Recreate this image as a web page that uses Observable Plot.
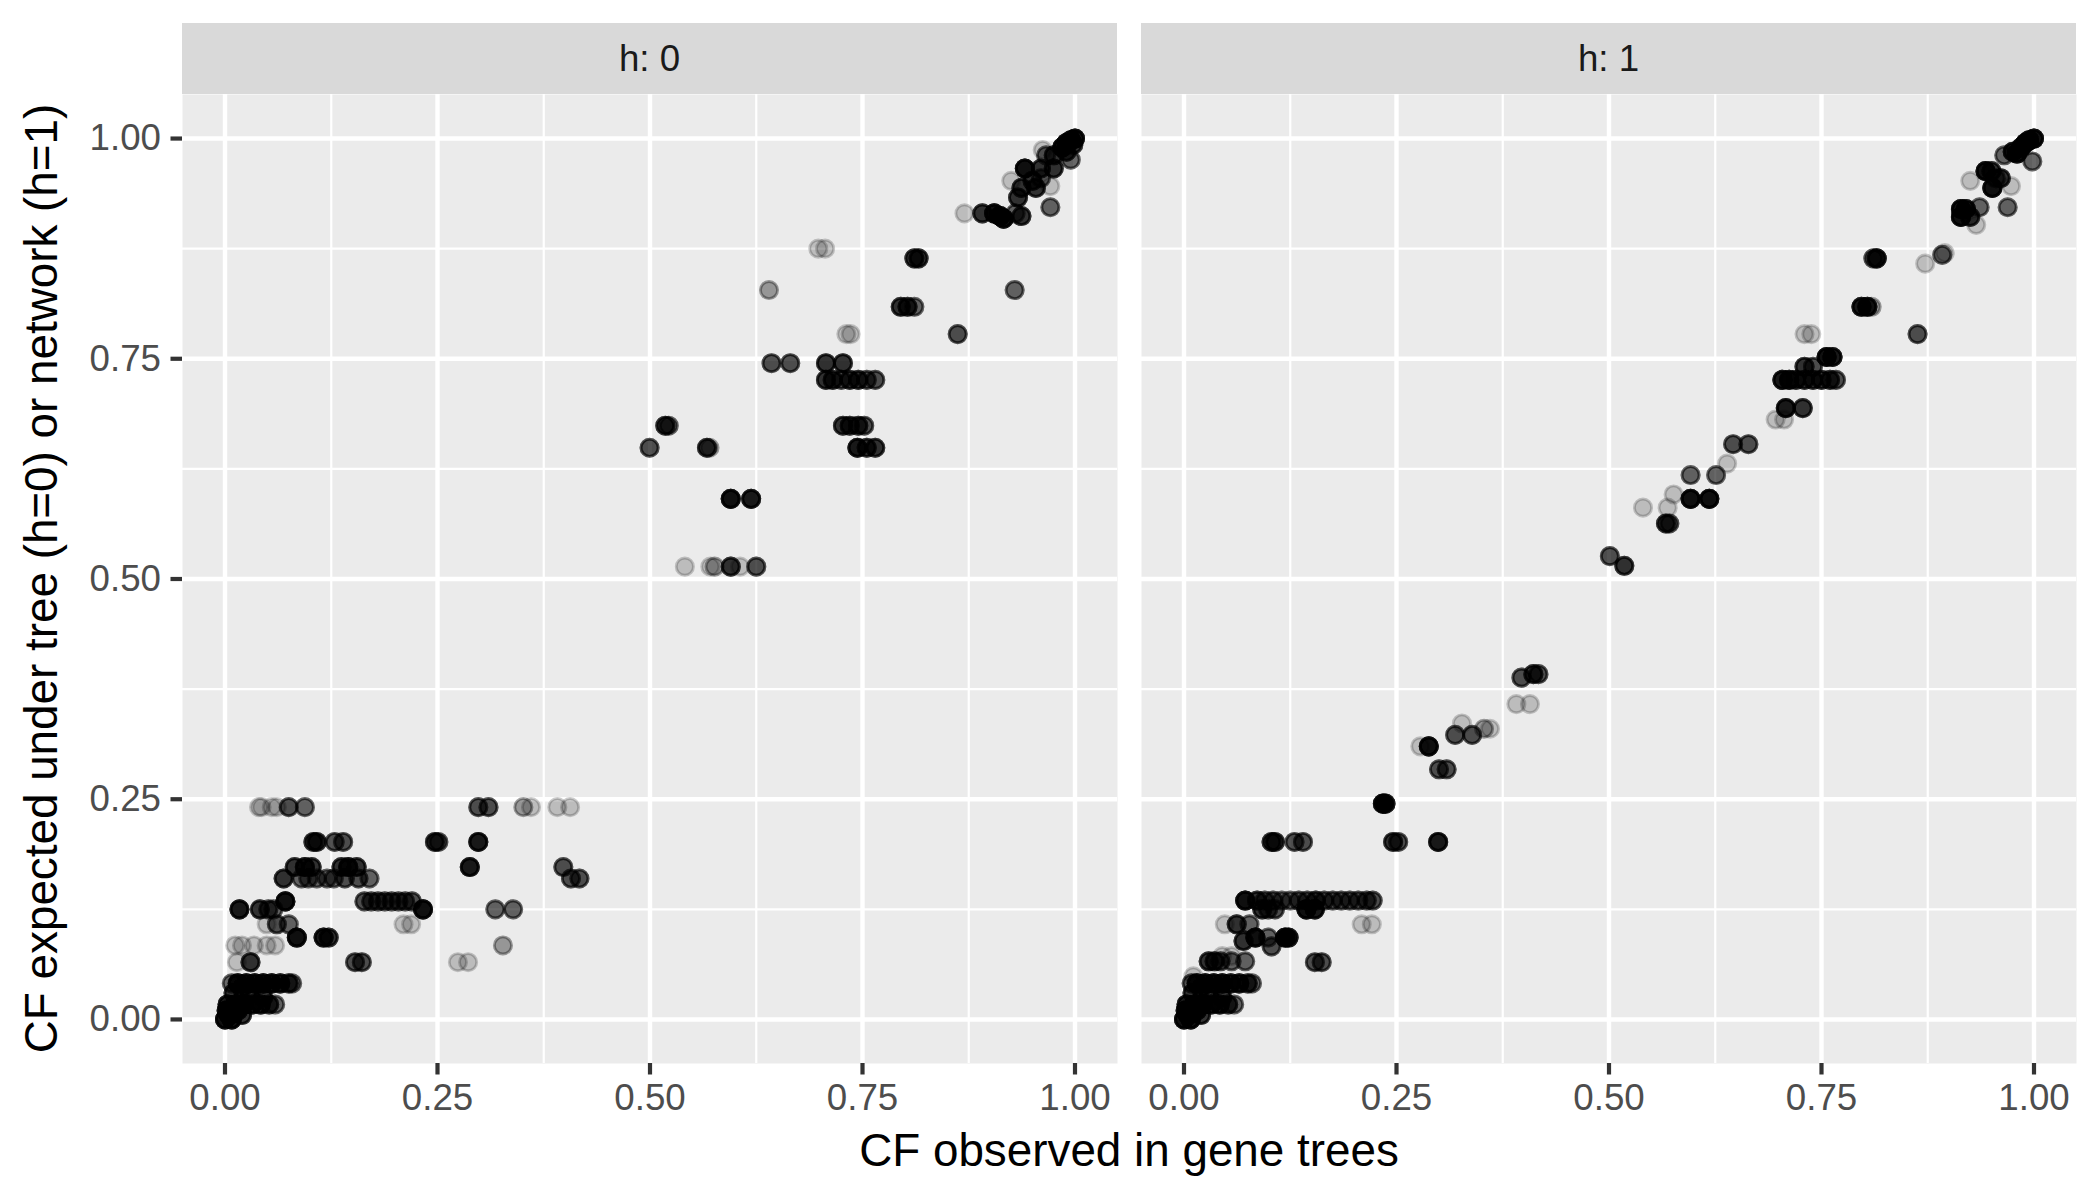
<!DOCTYPE html>
<html>
<head>
<meta charset="utf-8">
<script src="https://cdn.jsdelivr.net/npm/d3@7"></script>
<script src="https://cdn.jsdelivr.net/npm/@observablehq/plot@0.6"></script>
<style>
  html, body { margin: 0; padding: 0; background: #ffffff; }
  #chart svg { display: block; }
</style>
</head>
<body>
<div id="chart"></div>
<script>
// Facet categories and labels
const facets = ["0", "1"];
const facetLabels = ["h: 0", "h: 1"];
const xTitle = "CF observed in gene trees";
const yTitle = "CF expected under tree (h=0) or network (h=1)";
const majorTicks = [0, 0.25, 0.5, 0.75, 1];
const minorTicks = [0.125, 0.375, 0.625, 0.875];

// Points for h = 0: [observed CF, expected CF, number of overlapping copies]
const h0Points = [
  [1.0, 1.0, 12], [0.995, 0.998, 12], [0.99, 0.995, 12], [0.985, 0.99, 12], [0.998, 0.993, 7], [0.99, 0.985, 7],
  [0.962, 0.987, 1], [0.966, 0.981, 4], [0.975, 0.981, 7], [0.995, 0.976, 4],
  [0.941, 0.966, 12], [0.975, 0.966, 7], [0.96, 0.966, 7],
  [0.925, 0.952, 1], [0.95, 0.952, 7], [0.96, 0.955, 4],
  [0.971, 0.946, 1], [0.937, 0.944, 7], [0.954, 0.944, 7], [0.933, 0.933, 7], [0.971, 0.922, 4],
  [0.870, 0.915, 1], [0.891, 0.915, 7], [0.905, 0.915, 12], [0.912, 0.912, 12], [0.916, 0.909, 12], [0.937, 0.912, 7], [0.93, 0.915, 4],
  [0.698, 0.875, 1], [0.706, 0.875, 1],
  [0.811, 0.864, 7], [0.816, 0.864, 7],
  [0.640, 0.828, 2], [0.929, 0.828, 4],
  [0.795, 0.809, 7], [0.803, 0.809, 7], [0.811, 0.809, 4],
  [0.731, 0.778, 1], [0.736, 0.778, 1], [0.862, 0.778, 5],
  [0.643, 0.745, 5], [0.665, 0.745, 5], [0.707, 0.745, 7], [0.727, 0.745, 7],
  [0.707, 0.726, 7], [0.715, 0.726, 7], [0.725, 0.726, 5], [0.735, 0.726, 7], [0.745, 0.726, 7], [0.755, 0.726, 5], [0.765, 0.726, 5],
  [0.518, 0.674, 7], [0.522, 0.674, 4],
  [0.727, 0.674, 7], [0.735, 0.674, 7], [0.745, 0.674, 7], [0.752, 0.674, 5],
  [0.4995, 0.649, 5], [0.567, 0.649, 7], [0.57, 0.649, 2],
  [0.744, 0.649, 10], [0.755, 0.649, 7], [0.765, 0.649, 7],
  [0.595, 0.591, 12], [0.619, 0.591, 10],
  [0.541, 0.514, 1], [0.571, 0.514, 1], [0.576, 0.514, 2], [0.595, 0.514, 7], [0.606, 0.514, 1], [0.625, 0.514, 5],
  [0.040, 0.241, 1], [0.043, 0.241, 1], [0.055, 0.241, 1], [0.061, 0.241, 1], [0.075, 0.241, 5], [0.094, 0.241, 4],
  [0.298, 0.241, 5], [0.310, 0.241, 5], [0.351, 0.241, 2], [0.360, 0.241, 1], [0.391, 0.241, 1], [0.406, 0.241, 1],
  [0.104, 0.2015, 7], [0.108, 0.2015, 7], [0.129, 0.2015, 5], [0.139, 0.2015, 5], [0.247, 0.2015, 7], [0.251, 0.2015, 5], [0.298, 0.2015, 10],
  [0.082, 0.173, 7], [0.094, 0.173, 10], [0.102, 0.173, 7], [0.137, 0.173, 7], [0.145, 0.173, 10], [0.155, 0.173, 7], [0.288, 0.173, 10], [0.398, 0.173, 5],
  [0.069, 0.16, 7], [0.090, 0.16, 4], [0.098, 0.16, 4], [0.108, 0.16, 4], [0.120, 0.16, 4], [0.128, 0.16, 4], [0.141, 0.16, 5], [0.157, 0.16, 5], [0.170, 0.16, 4],
  [0.407, 0.16, 5], [0.417, 0.16, 5],
  [0.071, 0.134, 12], [0.164, 0.134, 5], [0.172, 0.134, 5], [0.180, 0.134, 5], [0.188, 0.134, 5], [0.196, 0.134, 5], [0.204, 0.134, 5], [0.212, 0.134, 5], [0.220, 0.134, 5],
  [0.017, 0.125, 10], [0.041, 0.125, 7], [0.051, 0.125, 5], [0.057, 0.125, 4], [0.233, 0.125, 12], [0.318, 0.125, 4], [0.339, 0.125, 4],
  [0.049, 0.108, 1], [0.061, 0.108, 5], [0.075, 0.108, 4], [0.210, 0.108, 1], [0.219, 0.108, 1],
  [0.0845, 0.093, 12], [0.116, 0.093, 10], [0.122, 0.093, 7],
  [0.012, 0.084, 1], [0.020, 0.084, 1], [0.034, 0.084, 1], [0.049, 0.084, 1], [0.059, 0.084, 1], [0.327, 0.084, 2],
  [0.014, 0.065, 1], [0.030, 0.065, 7], [0.153, 0.065, 5], [0.161, 0.065, 5], [0.274, 0.065, 1], [0.286, 0.065, 1],
  [0.008, 0.041, 4], [0.015, 0.041, 12], [0.025, 0.041, 12], [0.035, 0.041, 12], [0.045, 0.041, 12], [0.055, 0.041, 12], [0.065, 0.041, 10], [0.075, 0.041, 7], [0.079, 0.041, 4],
  [0.01, 0.03, 7], [0.02, 0.035, 7], [0.03, 0.03, 7], [0.045, 0.025, 7],
  [0.003, 0.017, 10], [0.012, 0.017, 12], [0.022, 0.017, 12], [0.032, 0.017, 10], [0.042, 0.017, 10], [0.052, 0.017, 7], [0.059, 0.017, 4],
  [0.0, 0.0, 12], [0.005, 0.005, 12], [0.01, 0.008, 12], [0.002, 0.01, 12], [0.015, 0.01, 10], [0.008, 0.0, 12], [0.02, 0.005, 7]
];

// Points for h = 1
const h1Points = [
  [1.0, 1.0, 12], [0.994, 0.998, 12], [0.99, 0.995, 12], [0.985, 0.99, 12], [0.975, 0.985, 10], [0.965, 0.981, 4], [0.980, 0.983, 12], [0.998, 0.974, 4],
  [0.943, 0.963, 12], [0.95, 0.963, 7], [0.961, 0.955, 7], [0.925, 0.952, 1], [0.951, 0.944, 12], [0.973, 0.946, 1], [0.955, 0.955, 4],
  [0.914, 0.920, 12], [0.92, 0.92, 10], [0.936, 0.922, 4], [0.914, 0.911, 12], [0.925, 0.911, 7], [0.932, 0.902, 1], [0.969, 0.922, 4],
  [0.815, 0.864, 10], [0.811, 0.864, 5], [0.892, 0.868, 4], [0.895, 0.87, 1], [0.872, 0.858, 1],
  [0.797, 0.809, 10], [0.804, 0.809, 10], [0.809, 0.809, 2],
  [0.730, 0.778, 1], [0.738, 0.778, 1], [0.863, 0.778, 5],
  [0.756, 0.752, 12], [0.763, 0.752, 10], [0.730, 0.741, 7], [0.74, 0.741, 5],
  [0.704, 0.726, 10], [0.712, 0.726, 10], [0.72, 0.726, 7], [0.73, 0.726, 7], [0.74, 0.726, 7], [0.75, 0.726, 7], [0.76, 0.726, 7], [0.767, 0.726, 5],
  [0.708, 0.694, 10], [0.728, 0.694, 7], [0.696, 0.681, 1], [0.706, 0.681, 1],
  [0.646, 0.653, 5], [0.664, 0.653, 5], [0.639, 0.631, 1],
  [0.596, 0.618, 4], [0.626, 0.618, 4], [0.576, 0.596, 1], [0.596, 0.591, 12], [0.618, 0.591, 12],
  [0.540, 0.581, 1], [0.569, 0.581, 1], [0.567, 0.563, 7], [0.571, 0.563, 5],
  [0.501, 0.526, 5], [0.518, 0.515, 7],
  [0.397, 0.388, 5], [0.411, 0.392, 7], [0.417, 0.392, 5], [0.391, 0.358, 1], [0.407, 0.358, 1],
  [0.327, 0.336, 1], [0.319, 0.323, 5], [0.339, 0.323, 5], [0.353, 0.330, 2], [0.360, 0.330, 1],
  [0.278, 0.310, 1], [0.288, 0.310, 12], [0.300, 0.284, 5], [0.309, 0.284, 5],
  [0.234, 0.245, 12], [0.237, 0.245, 10],
  [0.103, 0.2015, 7], [0.107, 0.2015, 7], [0.130, 0.2015, 5], [0.140, 0.2015, 5], [0.246, 0.2015, 7], [0.252, 0.2015, 5], [0.299, 0.2015, 10],
  [0.072, 0.135, 12], [0.086, 0.135, 7], [0.095, 0.135, 5], [0.105, 0.135, 5], [0.115, 0.135, 4], [0.125, 0.135, 4], [0.135, 0.135, 5], [0.145, 0.135, 5],
  [0.155, 0.135, 7], [0.165, 0.135, 5], [0.175, 0.135, 5], [0.185, 0.135, 5], [0.195, 0.135, 5], [0.205, 0.135, 5], [0.215, 0.135, 5], [0.222, 0.135, 5],
  [0.092, 0.125, 7], [0.099, 0.125, 5], [0.107, 0.125, 5], [0.144, 0.125, 12], [0.154, 0.125, 10],
  [0.048, 0.108, 1], [0.062, 0.108, 7], [0.077, 0.108, 4], [0.209, 0.108, 1], [0.221, 0.108, 1],
  [0.084, 0.093, 12], [0.070, 0.089, 7], [0.099, 0.093, 4], [0.103, 0.083, 5], [0.119, 0.093, 12], [0.123, 0.093, 10],
  [0.045, 0.072, 1], [0.056, 0.072, 1],
  [0.029, 0.066, 7], [0.036, 0.066, 7], [0.043, 0.066, 5], [0.056, 0.066, 4], [0.072, 0.066, 4], [0.154, 0.065, 5], [0.162, 0.065, 5],
  [0.011, 0.049, 1],
  [0.009, 0.041, 5], [0.015, 0.041, 12], [0.025, 0.041, 12], [0.035, 0.041, 12], [0.045, 0.041, 12], [0.055, 0.041, 10], [0.065, 0.041, 10], [0.075, 0.041, 7], [0.08, 0.041, 4],
  [0.01, 0.03, 7], [0.02, 0.035, 7], [0.03, 0.03, 7], [0.045, 0.025, 7],
  [0.003, 0.017, 10], [0.012, 0.017, 12], [0.022, 0.017, 12], [0.032, 0.017, 10], [0.042, 0.017, 10], [0.052, 0.017, 7], [0.059, 0.017, 4],
  [0.0, 0.0, 12], [0.005, 0.005, 12], [0.01, 0.008, 12], [0.002, 0.01, 12], [0.015, 0.01, 10], [0.008, 0.0, 12], [0.02, 0.005, 7]
];

// Build the plotting table: each overlapping copy is one semi-transparent point
const rows = [];
[[facets[0], h0Points], [facets[1], h1Points]].forEach(([h, pts]) => {
  pts.forEach(([obs, exp, n]) => {
    for (let i = 0; i < n; i++) rows.push({h, observed: obs, expected: exp});
  });
});

const FONT = "'Liberation Sans', Arial, Helvetica, sans-serif";
const fmt = d3.format(".2f");

const plot = Plot.plot({
  width: 2100,
  height: 1200,
  marginLeft: 182,
  marginRight: 24,
  marginTop: 94,
  marginBottom: 137,
  style: {fontFamily: FONT, background: "#ffffff", overflow: "visible"},
  fx: {domain: facets, paddingInner: 24 / 959, paddingOuter: 0, axis: null, label: null},
  x: {domain: [-0.05, 1.05], label: null},
  y: {domain: [-0.05, 1.05], label: null},
  marks: [
    Plot.frame({fill: "#EBEBEB", stroke: null}),
    Plot.gridX(minorTicks, {stroke: "#ffffff", strokeOpacity: 1, strokeWidth: 2.2}),
    Plot.gridY(minorTicks, {stroke: "#ffffff", strokeOpacity: 1, strokeWidth: 2.2}),
    Plot.gridX(majorTicks, {stroke: "#ffffff", strokeOpacity: 1, strokeWidth: 4.4}),
    Plot.gridY(majorTicks, {stroke: "#ffffff", strokeOpacity: 1, strokeWidth: 4.4}),
    Plot.dot(rows, {
      x: "observed", y: "expected", fx: "h",
      r: 8.6, fill: "#000000", fillOpacity: 0.2,
      stroke: "#000000", strokeOpacity: 0.2, strokeWidth: 2.9
    }),
    Plot.axisY(majorTicks, {
      anchor: "left", tickFormat: fmt, tickSize: 11.5, tickPadding: 10,
      stroke: "#333333", strokeWidth: 4.2, fill: "#4D4D4D", fontSize: 36.7, label: null
    }),
    Plot.axisX(majorTicks, {
      anchor: "bottom", tickFormat: fmt, tickSize: 11.5, tickPadding: 9,
      stroke: "#333333", strokeWidth: 4.2, fill: "#4D4D4D", fontSize: 36.7, label: null
    })
  ]
});

// Facet strips and axis titles, positioned from the plot's own scales
const svg = d3.select(plot);
const fxScale = plot.scale("fx");
const yScale = plot.scale("y");
const stripG = svg.append("g");
facets.forEach((k, i) => {
  const x0 = fxScale.apply(k);
  const bw = fxScale.bandwidth;
  stripG.append("rect")
    .attr("x", x0).attr("y", 23).attr("width", bw).attr("height", 71)
    .attr("fill", "#D9D9D9");
  stripG.append("text")
    .attr("x", x0 + bw / 2).attr("y", 58.5)
    .attr("text-anchor", "middle").attr("dominant-baseline", "central")
    .attr("font-family", FONT).attr("font-size", 36.7).attr("fill", "#1A1A1A")
    .text(facetLabels[i]);
});
const first = fxScale.apply(facets[0]);
const last = fxScale.apply(facets[facets.length - 1]) + fxScale.bandwidth;
svg.append("text")
  .attr("x", (first + last) / 2).attr("y", 1166)
  .attr("text-anchor", "middle")
  .attr("font-family", FONT).attr("font-size", 45.8).attr("fill", "#000000")
  .text(xTitle);
const yr = yScale.range;
const yc = (yr[0] + yr[1]) / 2;
svg.append("text")
  .attr("transform", `translate(57,${yc}) rotate(-90)`)
  .attr("text-anchor", "middle")
  .attr("font-family", FONT).attr("font-size", 45.8).attr("fill", "#000000")
  .text(yTitle);

document.getElementById("chart").appendChild(plot);
</script>
</body>
</html>
